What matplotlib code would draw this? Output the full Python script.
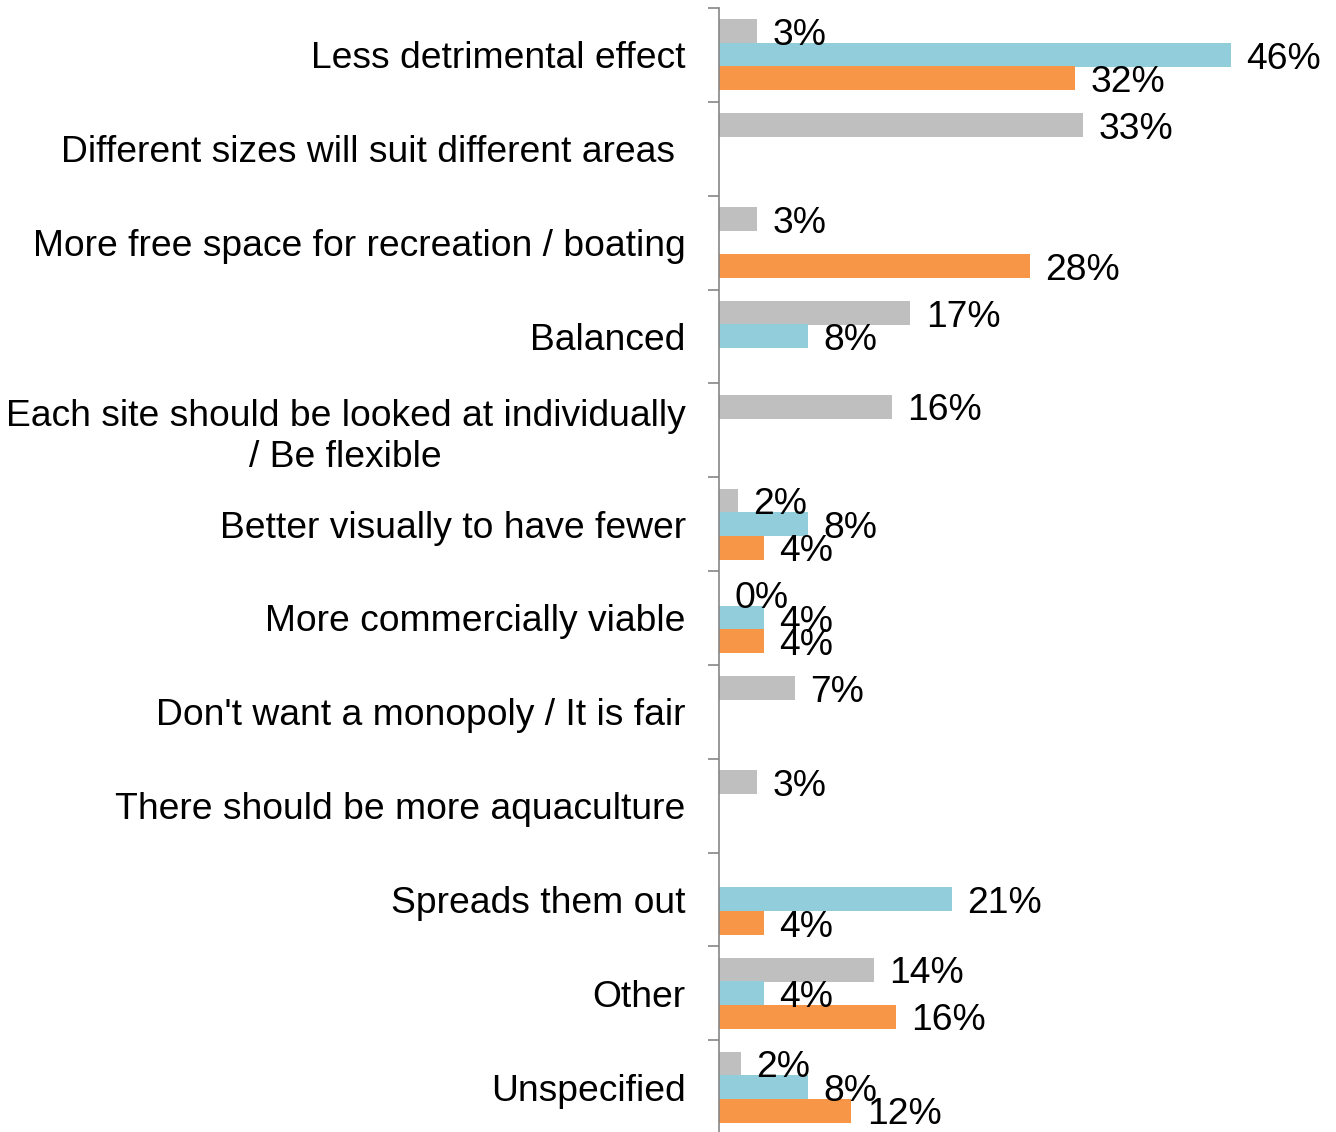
import matplotlib

matplotlib.use("Agg")

import matplotlib.pyplot as plt
import numpy as np

plt.rcParams["font.family"] = ["Liberation Sans", "DejaVu Sans"]

categorias = [
    "Less detrimental effect",
    "Different sizes will suit different areas ",
    "More free space for recreation / boating",
    "Balanced",
    "Each site should be looked at individually\n/ Be flexible",
    "Better visually to have fewer",
    "More commercially viable",
    "Don't want a monopoly / It is fair",
    "There should be more aquaculture",
    "Spreads them out",
    "Other",
    "Unspecified",
]

# None = sin barra en esa serie
serie_gris = [3.4, 32.7, 3.4, 17.2, 15.5, 1.7, 0.0, 6.8, 3.4, None, 13.9, 2.0]
serie_azul = [46.0, None, None, 8.0, None, 8.0, 4.0, None, None, 20.9, 4.0, 8.0]
serie_naranja = [32.0, None, 27.9, None, None, 4.0, 4.0, None, None, 4.0, 15.9, 11.9]

series = [
    (serie_gris, "#BFBFBF", -0.25),
    (serie_azul, "#92CDDC", 0.0),
    (serie_naranja, "#F79646", 0.25),
]

fig = plt.figure(figsize=(13.36, 11.32), dpi=100)
ax = fig.add_axes([719 / 1336, -2 / 1132, 556.5 / 1336, 1 - 6 / 1132])

y = np.arange(len(categorias))
for valores, color, desplazamiento in series:
    for yi, v in zip(y, valores):
        if v is None:
            continue
        ax.barh(yi + desplazamiento, v, height=0.255, color=color, edgecolor="none")
        ax.annotate(f"{v:.0f}%", (v, yi + desplazamiento), xytext=(11, -3),
                    textcoords="offset points", va="center", ha="left",
                    fontsize=26.8, color="black", annotation_clip=False)

ax.set_xlim(0, 50)
ax.set_ylim(len(categorias) - 0.5, -0.5)

ax.set_yticks(np.arange(-0.5, len(categorias) + 0.5, 1.0))
ax.set_yticklabels([])
ax.set_yticks(y, minor=True)
ax.set_yticklabels(categorias, minor=True, fontsize=26.8)
for etiqueta in ax.get_yticklabels(minor=True):
    etiqueta.set_multialignment("center")
ax.tick_params(axis="y", which="major", length=8, width=1.2, color="#868686")
ax.tick_params(axis="y", which="minor", length=0, pad=24)
ax.set_xticks([])

for lado in ["top", "right", "bottom"]:
    ax.spines[lado].set_visible(False)
ax.spines["left"].set_color("#868686")
ax.spines["left"].set_linewidth(1.2)

fig.savefig("out.png", dpi=100)
